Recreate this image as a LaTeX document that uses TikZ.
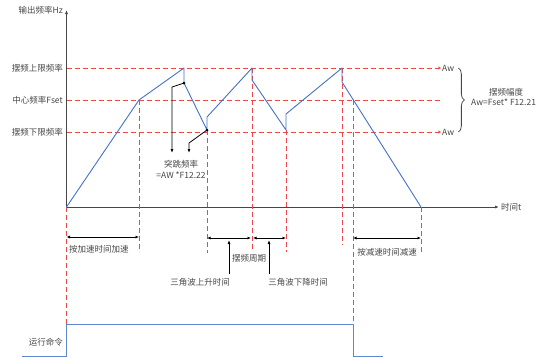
\documentclass[tikz,border=0pt]{standalone}
\usepackage{fontspec}
\setmainfont{Noto Sans CJK SC}
\usepackage{tikz}
\usetikzlibrary{arrows.meta, decorations.pathreplacing}
\definecolor{wobblue}{RGB}{68, 114, 196}
\definecolor{wobred}{RGB}{236, 70, 70}
\definecolor{wobgray}{RGB}{70, 70, 70}

\begin{document}
\begin{tikzpicture}[x=1pt, y=-1pt, font=\fontsize{8.5}{10}\selectfont,
    guide/.style={wobred, line width=0.8pt, dash pattern=on 5pt off 3pt},
    wave/.style={wobblue, line width=0.9pt},
    axisline/.style={wobgray, line width=0.9pt, -{Latex[length=4pt, width=3pt]}},
    span/.style={black, line width=0.8pt, {Latex[length=3.5pt, width=3pt]}-{Latex[length=3.5pt, width=3pt]}},
    pointer/.style={black, line width=0.8pt, -{Latex[length=4pt, width=3pt]}},
    lbl/.style={text=wobgray, inner sep=1pt}]
    \useasboundingbox (0,0) rectangle (543,357);

    % Niveaux de frequence (lignes horizontales)
    \node[lbl, left] (fhi) at (64,68) {摆频上限频率};
    \node[lbl, left] (fmid) at (64,100) {中心频率Fset};
    \node[lbl, left] (flo) at (64,132) {摆频下限频率};
    \node[lbl, right] (awhi) at (441,68) {Aw};
    \node[lbl, right] (awlo) at (441,132) {Aw};
    \draw[guide, -{Stealth[length=3pt, width=3pt]}] (66.5,68) -- (awhi.west);
    \draw[guide] (66.5,100) -- (442,100);
    \draw[guide, -{Stealth[length=3pt, width=3pt]}] (66.5,132) -- (awlo.west);

    % Accolade et amplitude
    \draw[wobgray, line width=0.8pt, decorate, decoration={brace, amplitude=6pt}]
        ([xshift=3pt]awhi.east) -- ([xshift=3pt]awlo.east);
    \node[lbl] (ampname) at (506,92) {摆频幅度};
    \node[lbl, right] (ampform) at (470,102) {Aw=Fset* F12.21};

    % Axes
    \coordinate (O) at (66.5,207);
    \draw[axisline] (O) -- (66.5,10);
    \node[lbl, left] (yname) at (64,10) {输出频率Hz};
    \draw[axisline] (O) -- (499,207);
    \node[lbl, right] (tname) at (500,207) {时间t};

    % Reperes verticaux
    \foreach \x/\ya/\yb in {66.5/207/324, 139/100/252, 207/130/253, 252/68/250,
                            286/130/252, 342/68/245, 353/100/324, 421/207/253} {
        \draw[guide] (\x,\ya) -- (\x,\yb);
    }

    % Frequence de sortie
    \draw[wave, line join=round] (O) -- (139,100) -- (184,68) -- (184,83) -- (207,130)
        -- (207,117) -- (252,68) -- (252,80) -- (286,130) -- (286,114)
        -- (342,68) -- (342,82) -- (421,207);

    % Frequence de saut
    \coordinate (jumpa) at (184,83);
    \coordinate (jumpb) at (207,130);
    \fill[black] (jumpa) circle (1.5pt);
    \fill[black] (jumpb) circle (1.5pt);
    \node[lbl, align=center] (jumplbl) at (181,169) {突跳频率\\[1pt]=AW *F12.22};
    \draw[pointer] (jumpa) -- (172,87) -- (172,153);
    \draw[pointer] (jumpb) -- (189,143) -- (189,153);

    % Durees
    \draw[span] (66.5,237) -- (139,237);
    \node[lbl, right] (accel) at (68,249) {按加速时间加速};
    \draw[span] (207,238) -- (251,238);
    \draw[span] (253,238) -- (286,238);
    \node[lbl] (period) at (249,258) {摆频周期};
    \node[lbl] (rise) at (200,282) {三角波上升时间};
    \node[lbl] (fall) at (298,282) {三角波下降时间};
    \draw[pointer] (229,274) -- (229,240);
    \draw[pointer] (269,274) -- (269,240);
    \draw[span] (353,238) -- (421,238);
    \node[lbl] (decel) at (387,252) {按减速时间减速};

    % Commande de marche
    \node[lbl, left] (runcmd) at (64,342) {运行命令};
    \draw[wobblue!85, line width=0.9pt] (22,356) -- (66.5,356) -- (66.5,324)
        -- (353,324) -- (353,356) -- (383,356);
\end{tikzpicture}
\end{document}
